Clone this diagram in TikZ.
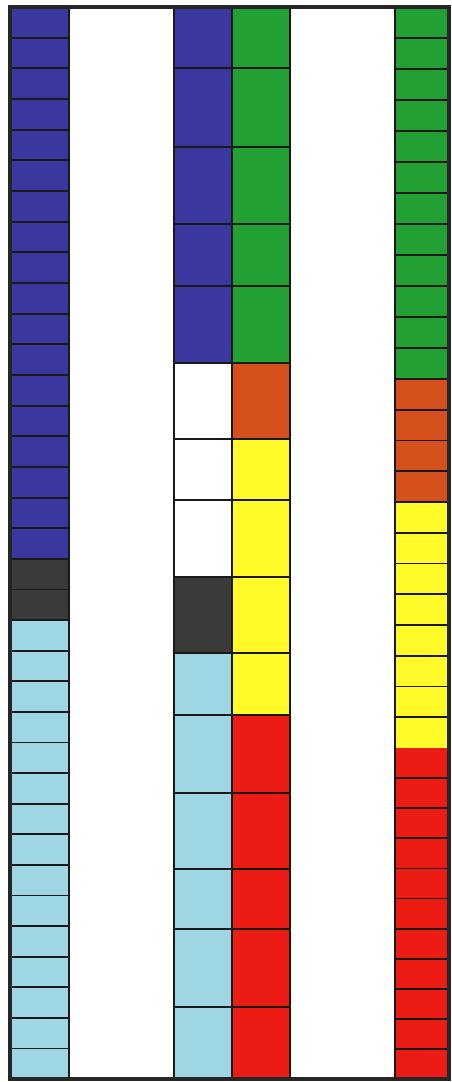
\documentclass[tikz,border=0pt]{standalone}
\definecolor{cblue}{RGB}{58,56,158}
\definecolor{cgreen}{RGB}{34,160,52}
\definecolor{corange}{RGB}{214,80,30}
\definecolor{cyellow}{RGB}{255,250,40}
\definecolor{cred}{RGB}{236,28,20}
\definecolor{clb}{RGB}{158,214,228}
\definecolor{cgray}{RGB}{58,58,58}
\begin{document}
\begin{tikzpicture}[x=1pt,y=-1pt,
  cellline/.style={draw=black!90, line width=1.8pt},
  framebox/.style={draw=black!85, line width=4.5pt}]
\useasboundingbox (0,0) rectangle (451,1082);
\fill[white] (0,0) rectangle (451,1082);

% ---------- left column (35 unit cells) ----------
\fill[cblue] (10,7) rectangle (69,559);
\fill[cgray] (10,559) rectangle (69,620);
\fill[clb]   (10,620) rectangle (69,1079);
\foreach \i in {1,...,18} \draw[cellline] (10,{7+\i*30.67}) -- (69,{7+\i*30.67});
\draw[cellline] (10,589.5) -- (69,589.5);
\foreach \i in {0,...,14} \draw[cellline] (10,{620+\i*30.6}) -- (69,{620+\i*30.6});
\draw[cellline] (69,7) -- (69,1079);

% ---------- middle columns ----------
\foreach \t/\b/\ca/\cb in {7/68/cblue/cgreen, 68/147/cblue/cgreen, 147/224/cblue/cgreen,
  224/286/cblue/cgreen, 286/363/cblue/cgreen, 363/439/white/corange,
  439/500/white/cyellow, 500/577/white/cyellow, 577/653/cgray/cyellow,
  653/715/clb/cyellow, 715/793/clb/cred, 793/869/clb/cred, 869/929/clb/cred,
  929/1007/clb/cred, 1007/1079/clb/cred}{
  \fill[\ca] (174,\t) rectangle (232,\b);
  \fill[\cb] (232,\t) rectangle (290,\b);
  \draw[cellline] (174,\t) rectangle (232,\b);
  \draw[cellline] (232,\t) rectangle (290,\b);
}

% ---------- right column (35 unit cells) ----------
\fill[cgreen]  (395,7) rectangle (450,379);
\fill[corange] (395,379) rectangle (450,502);
\fill[cyellow] (395,502) rectangle (450,748);
\fill[cred]    (395,748) rectangle (450,1079);
\foreach \i in {1,...,12} \draw[cellline] (395,{7+\i*31}) -- (450,{7+\i*31});
\foreach \i in {1,...,4} \draw[cellline] (395,{379+\i*30.75}) -- (450,{379+\i*30.75});
\foreach \i in {1,...,7} \draw[cellline] (395,{502+\i*30.75}) -- (450,{502+\i*30.75});
\foreach \i in {1,...,10} \draw[cellline] (395,{748+\i*30.1}) -- (450,{748+\i*30.1});
\draw[cellline] (395,7) -- (395,1079);

% ---------- outer frame ----------
\draw[framebox] (10,7) rectangle (449,1079);
\end{tikzpicture}
\end{document}
